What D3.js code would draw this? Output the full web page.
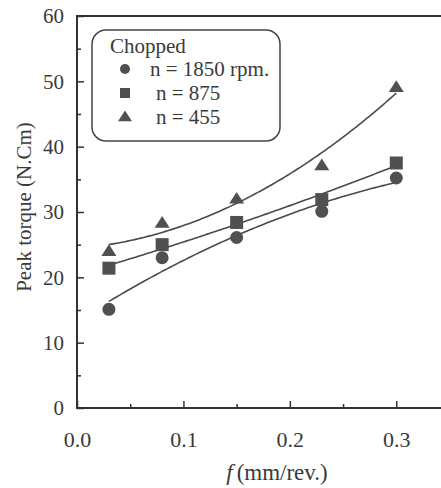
<!DOCTYPE html>
<html>
<head>
<meta charset="utf-8">
<script src="https://cdn.jsdelivr.net/npm/d3@7/dist/d3.min.js"></script>
<style>
  html, body { margin: 0; padding: 0; background: #fff; }
  svg { display: block; }
  text { font-family: "Liberation Serif", "Times New Roman", serif; fill: #3a3a3a; }
</style>
</head>
<body>
<svg id="chart" width="441" height="488"></svg>
<script>
// Feed rate (mm/rev) and peak torque (N.Cm) for chopped fibres at three spindle speeds
const feed = [0.03, 0.08, 0.15, 0.23, 0.30];
const torque1850 = [15.1, 23.0, 26.1, 30.1, 35.2];
const torque875 = [21.4, 25.0, 28.4, 31.9, 37.5];
const torque455 = [24.0, 28.3, 32.0, 37.1, 49.1];
const seriesNames = ["n = 1850 rpm.", "n = 875", "n = 455"];
const legendTitle = "Chopped";
const xTicks = [0.0, 0.1, 0.2, 0.3];
const yTicks = [0, 10, 20, 30, 40, 50, 60];

const series = [
  { name: seriesNames[0], values: torque1850, shape: "circle" },
  { name: seriesNames[1], values: torque875, shape: "square" },
  { name: seriesNames[2], values: torque455, shape: "triangle" }
];

const ink = "#333";
const markFill = "#505050";
const svg = d3.select("#chart");

const x = d3.scaleLinear().domain([0, 0.35]).range([77, 449.5]);
const y = d3.scaleLinear().domain([0, 60]).range([408, 16]);

// plot frame
svg.append("rect")
  .attr("x", x(0)).attr("y", y(60))
  .attr("width", x(0.35) - x(0)).attr("height", y(0) - y(60))
  .attr("fill", "none").attr("stroke", ink).attr("stroke-width", 2);

// inward ticks: major with labels, minor without
const xAxis = d3.axisBottom(x).tickValues(xTicks).tickFormat(d3.format(".1f"))
  .tickSizeInner(-7).tickSizeOuter(0).tickPadding(23);
const xMinor = d3.axisBottom(x).tickValues([0.05, 0.15, 0.25]).tickFormat("")
  .tickSizeInner(-4).tickSizeOuter(0);
const yAxis = d3.axisLeft(y).tickValues(yTicks).tickFormat(d3.format("d"))
  .tickSizeInner(-7).tickSizeOuter(0).tickPadding(13);
const yMinor = d3.axisLeft(y).tickValues([5, 15, 25, 35, 45, 55]).tickFormat("")
  .tickSizeInner(-4).tickSizeOuter(0);

function styleAxis(g, size) {
  g.select(".domain").remove();
  g.selectAll(".tick line").attr("stroke", ink).attr("stroke-width", 1.5);
  g.selectAll(".tick text")
    .attr("fill", "#3a3a3a")
    .style("font-family", '"Liberation Serif", "Times New Roman", serif')
    .style("font-size", size + "px");
}

svg.append("g").attr("transform", `translate(0,${y(0)})`).call(xAxis).call(styleAxis, 22);
svg.append("g").attr("transform", `translate(0,${y(0)})`).call(xMinor).call(styleAxis, 22);
svg.append("g").attr("transform", `translate(${x(0)},0)`).call(yAxis).call(styleAxis, 21);
svg.append("g").attr("transform", `translate(${x(0)},0)`).call(yMinor).call(styleAxis, 21);

// axis titles
const xt = svg.append("text")
  .attr("x", 277).attr("y", 480)
  .attr("text-anchor", "middle")
  .style("font-size", "23px");
xt.append("tspan").attr("font-style", "italic").text("f");
xt.append("tspan").attr("dx", 4).text("(mm/rev.)");

svg.append("text")
  .attr("transform", "translate(31,207) rotate(-90)")
  .attr("text-anchor", "middle")
  .style("font-size", "21px")
  .text("Peak torque (N.Cm)");

// least-squares quadratic trend for each series
function quadFit(xs, ys) {
  const n = xs.length;
  let s = [0, 0, 0, 0, 0], t = [0, 0, 0];
  for (let i = 0; i < n; i++) {
    let p = 1;
    for (let k = 0; k < 5; k++) { s[k] += p; if (k < 3) t[k] += p * ys[i]; p *= xs[i]; }
  }
  const A = [[s[0], s[1], s[2], t[0]], [s[1], s[2], s[3], t[1]], [s[2], s[3], s[4], t[2]]];
  for (let i = 0; i < 3; i++) {
    for (let j = i + 1; j < 3; j++) {
      const f = A[j][i] / A[i][i];
      for (let k = i; k < 4; k++) A[j][k] -= f * A[i][k];
    }
  }
  const c = [0, 0, 0];
  for (let i = 2; i >= 0; i--) {
    let v = A[i][3];
    for (let k = i + 1; k < 3; k++) v -= A[i][k] * c[k];
    c[i] = v / A[i][i];
  }
  return xv => c[0] + c[1] * xv + c[2] * xv * xv;
}

const line = d3.line().x(d => x(d[0])).y(d => y(d[1]));
const xFine = d3.range(feed[0], feed[feed.length - 1] + 1e-9, 0.0025);

series.forEach(s => {
  const f = quadFit(feed, s.values);
  svg.append("path")
    .datum(xFine.map(xv => [xv, f(xv)]))
    .attr("d", line)
    .attr("fill", "none")
    .attr("stroke", "#4a4a4a")
    .attr("stroke-width", 1.6);
});

// marker shapes
function drawMarker(g, shape, cx, cy, size) {
  if (shape === "circle") {
    g.append("circle").attr("cx", cx).attr("cy", cy).attr("r", size / 2).attr("fill", markFill);
  } else if (shape === "square") {
    g.append("rect").attr("x", cx - size / 2).attr("y", cy - size / 2)
      .attr("width", size).attr("height", size).attr("fill", markFill);
  } else {
    const h = size * 0.9;
    g.append("path")
      .attr("d", `M${cx},${cy - h * 0.6}L${cx + size / 2 + 1},${cy + h * 0.4}L${cx - size / 2 - 1},${cy + h * 0.4}Z`)
      .attr("fill", markFill);
  }
}

const markers = svg.append("g");
series.forEach(s => {
  s.values.forEach((v, i) => drawMarker(markers, s.shape, x(feed[i]), y(v), 13));
});

// legend
const lg = svg.append("g");
lg.append("rect")
  .attr("x", 92).attr("y", 30).attr("width", 188).attr("height", 111)
  .attr("rx", 14).attr("ry", 14)
  .attr("fill", "#fff").attr("stroke", "#444").attr("stroke-width", 1.5);
lg.append("text").attr("x", 110).attr("y", 53).style("font-size", "21px").text(legendTitle);
const rowY = [69, 93, 117];
const textX = [150, 156, 156];
series.forEach((s, i) => {
  drawMarker(lg, s.shape, 125, rowY[i], s.shape === "triangle" ? 12 : 10);
  lg.append("text").attr("x", textX[i]).attr("y", rowY[i] + 7)
    .style("font-size", "21px").text(s.name);
});
</script>
</body>
</html>
